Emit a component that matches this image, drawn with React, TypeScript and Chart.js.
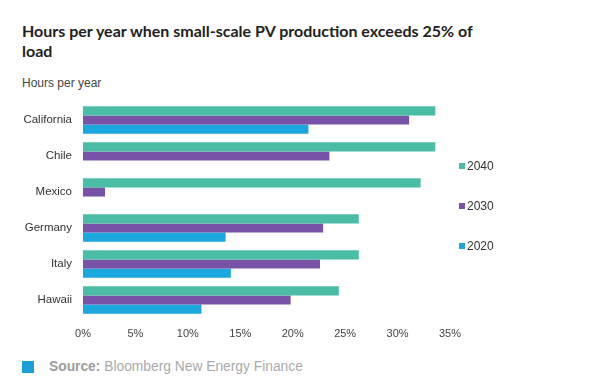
import React, { useEffect, useRef } from "react";
import { Chart, registerables } from "chart.js";

Chart.register(...registerables);

const TITLE_LINE1 = "Hours per year when small-scale PV production exceeds 25% of";
const TITLE_LINE2 = "load";
const SUBTITLE = "Hours per year";
const SOURCE_LABEL = "Source:";
const SOURCE_TEXT = "Bloomberg New Energy Finance";

const categories = ["California", "Chile", "Mexico", "Germany", "Italy", "Hawaii"];
const seriesNames = ["2040", "2030", "2020"];
const values2040 = [33.6, 33.6, 32.2, 26.3, 26.3, 24.4];
const values2030 = [31.1, 23.5, 2.1, 22.9, 22.6, 19.8];
const values2020 = [21.5, null, null, 13.6, 14.1, 11.3];
const seriesColors = ["#4bbda7", "#7852a6", "#1ca6de"];
const xTicksMax = 35;
const xTickStep = 5;

const FONT = "'Liberation Sans', Arial, sans-serif";

export default function App() {
  const canvasRef = useRef<HTMLCanvasElement | null>(null);

  useEffect(() => {
    const canvas = canvasRef.current;
    if (!canvas) return;
    const seriesData = [values2040, values2030, values2020];
    const chart = new Chart(canvas, {
      type: "bar",
      data: {
        labels: categories,
        datasets: seriesNames.map((name, i) => ({
          label: name,
          data: seriesData[i] as any,
          backgroundColor: seriesColors[i],
          borderWidth: 0,
          categoryPercentage: 0.76,
          barPercentage: 1.0,
        })),
      },
      options: {
        indexAxis: "y",
        animation: false,
        responsive: false,
        maintainAspectRatio: false,
        layout: { padding: { left: 22, top: 7, right: 18, bottom: 0 } },
        plugins: {
          legend: { display: false },
          tooltip: { enabled: false },
          title: { display: false },
        },
        scales: {
          x: {
            min: 0,
            max: xTicksMax,
            grid: { display: false, drawTicks: false },
            border: { display: false },
            ticks: {
              stepSize: xTickStep,
              padding: 9,
              color: "#444",
              font: { family: FONT, size: 11 },
              callback: (v: any) => `${v}%`,
            },
            afterFit: (scale: any) => {
              scale.height = 27;
            },
          },
          y: {
            grid: { display: false, drawTicks: false },
            border: { display: false },
            ticks: {
              padding: 11,
              color: "#333",
              font: { family: FONT, size: 11.5 },
            },
            afterFit: (scale: any) => {
              scale.width = 61;
              scale.paddingTop = 0;
              scale.paddingBottom = 0;
            },
          },
        },
      },
    });
    return () => chart.destroy();
  }, []);

  const legendY = [166, 206, 246];

  return (
    <div
      style={{
        position: "fixed",
        left: 0,
        top: 0,
        width: 600,
        height: 392,
        background: "#fff",
        overflow: "hidden",
      }}
    >
      <div
        style={{
          position: "absolute",
          left: 22,
          top: 21,
          fontFamily: "Lato, 'Open Sans', sans-serif",
          fontWeight: 700,
          fontSize: 16,
          lineHeight: "19.5px",
          color: "#222",
          whiteSpace: "nowrap",
        }}
      >
        {TITLE_LINE1}
        <br />
        {TITLE_LINE2}
      </div>
      <div
        style={{
          position: "absolute",
          left: 22,
          top: 76,
          fontFamily: FONT,
          fontSize: 12,
          lineHeight: "14px",
          color: "#444",
        }}
      >
        {SUBTITLE}
      </div>
      <canvas
        ref={canvasRef}
        width={470}
        height={250}
        style={{ position: "absolute", left: 0, top: 95, width: 470, height: 250 }}
      />
      {seriesNames.map((name, i) => (
        <div
          key={name}
          style={{
            position: "absolute",
            left: 459,
            top: legendY[i] - 7,
            height: 14,
            display: "flex",
            alignItems: "center",
            fontFamily: FONT,
            fontSize: 12,
            color: "#333",
          }}
        >
          <span
            style={{
              display: "inline-block",
              width: 6,
              height: 6,
              background: seriesColors[i],
              marginRight: 2,
            }}
          />
          <span>{name}</span>
        </div>
      ))}
      <div
        style={{
          position: "absolute",
          left: 22,
          top: 361,
          width: 12,
          height: 12,
          background: "#1a9fd8",
        }}
      />
      <div
        style={{
          position: "absolute",
          left: 49,
          top: 359,
          fontFamily: FONT,
          fontSize: 13.8,
          lineHeight: "16px",
          color: "#aaa",
          whiteSpace: "nowrap",
        }}
      >
        <span style={{ fontWeight: 700, color: "#9d9d9d" }}>{SOURCE_LABEL}</span> {SOURCE_TEXT}
      </div>
    </div>
  );
}
